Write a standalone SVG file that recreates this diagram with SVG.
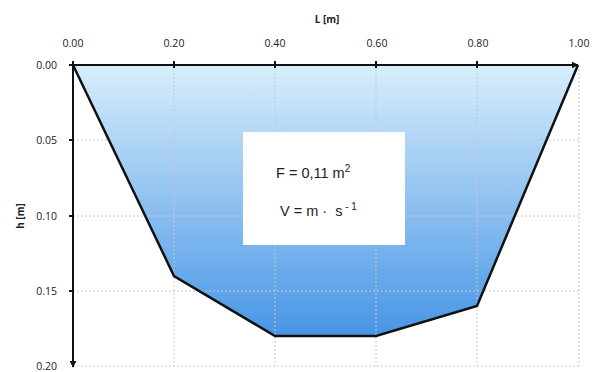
<svg xmlns="http://www.w3.org/2000/svg" width="595" height="372" viewBox="0 0 595 372">
<defs>
<linearGradient id="water" x1="0" y1="0" x2="0" y2="1">
<stop offset="0" stop-color="#d8eefc"/>
<stop offset="1" stop-color="#4895e6"/>
</linearGradient>
<marker id="arr" viewBox="0 0 10 10" refX="9" refY="5" markerWidth="7" markerHeight="7" orient="auto" markerUnits="userSpaceOnUse">
<path d="M0,0 L10,5 L0,10 Z" fill="#111"/>
</marker>
</defs>
<style>
.grid{stroke:#c8c8c8;stroke-width:1;stroke-dasharray:2,2;fill:none}
.axis{stroke:#111;stroke-width:2;fill:none}
.tick{stroke:#111;stroke-width:2}
.lbl{font-family:"Open Sans","DejaVu Sans",sans-serif;font-size:10.5px;fill:#222}
.ttl{font-family:"Open Sans","DejaVu Sans",sans-serif;font-size:10px;font-weight:bold;fill:#222}
.box{font-family:"Liberation Sans",Arial,sans-serif;font-size:14.5px;fill:#222}
</style>
<rect width="595" height="372" fill="#fff"/>
<g id="channel">
<polygon points="73,65 174,276 275,336 376,336 477,306 578,65" fill="url(#water)"/>
</g>
<g id="grid">
<line class="grid" x1="174" y1="65" x2="174" y2="366"/>
<line class="grid" x1="275" y1="65" x2="275" y2="366"/>
<line class="grid" x1="376" y1="65" x2="376" y2="366"/>
<line class="grid" x1="477" y1="65" x2="477" y2="366"/>
<line class="grid" x1="579" y1="65" x2="579" y2="366"/>
<line class="grid" x1="73" y1="140" x2="579" y2="140"/>
<line class="grid" x1="73" y1="216" x2="579" y2="216"/>
<line class="grid" x1="73" y1="291" x2="579" y2="291"/>
<line class="grid" x1="73" y1="366" x2="579" y2="366"/>
</g>
<g id="outline">
<polyline points="73,65 174,276 275,336 376,336 477,306 578,65" fill="none" stroke="#111" stroke-width="2.5" stroke-linejoin="miter"/>
</g>
<g id="textbox">
<rect x="243" y="132" width="162" height="113" fill="#fff"/>
<text class="box" x="276" y="178">F = 0,11 m<tspan font-size="10" dy="-6">2</tspan></text>
<text class="box" x="280" y="216" xml:space="preserve">V = m ·  s<tspan font-size="10" dy="-6"> - 1</tspan></text>
</g>
<g id="axes">
<line class="axis" x1="73" y1="65" x2="578" y2="65" marker-end="url(#arr)"/>
<line class="axis" x1="73" y1="65" x2="73" y2="367" marker-end="url(#arr)"/>
<line class="tick" x1="73" y1="61" x2="73" y2="65"/>
<line class="tick" x1="174" y1="61" x2="174" y2="68"/>
<line class="tick" x1="275" y1="61" x2="275" y2="68"/>
<line class="tick" x1="376" y1="61" x2="376" y2="68"/>
<line class="tick" x1="477" y1="61" x2="477" y2="68"/>
<line class="tick" x1="69" y1="65" x2="73" y2="65"/>
<line class="tick" x1="69" y1="140" x2="73" y2="140"/>
<line class="tick" x1="69" y1="216" x2="73" y2="216"/>
<line class="tick" x1="69" y1="291" x2="73" y2="291"/>
</g>
<g id="labels">
<text class="ttl" x="327" y="23" text-anchor="middle">L [m]</text>
<text class="ttl" transform="translate(24,216) rotate(-90)" text-anchor="middle">h [m]</text>
<text class="lbl" x="73" y="47" text-anchor="middle">0.00</text>
<text class="lbl" x="174" y="47" text-anchor="middle">0.20</text>
<text class="lbl" x="275" y="47" text-anchor="middle">0.40</text>
<text class="lbl" x="377" y="47" text-anchor="middle">0.60</text>
<text class="lbl" x="478" y="47" text-anchor="middle">0.80</text>
<text class="lbl" x="579" y="47" text-anchor="middle">1.00</text>
<text class="lbl" x="57" y="69" text-anchor="end">0.00</text>
<text class="lbl" x="57" y="144" text-anchor="end">0.05</text>
<text class="lbl" x="57" y="220" text-anchor="end">0.10</text>
<text class="lbl" x="57" y="295" text-anchor="end">0.15</text>
<text class="lbl" x="57" y="370" text-anchor="end">0.20</text>
</g>
</svg>
